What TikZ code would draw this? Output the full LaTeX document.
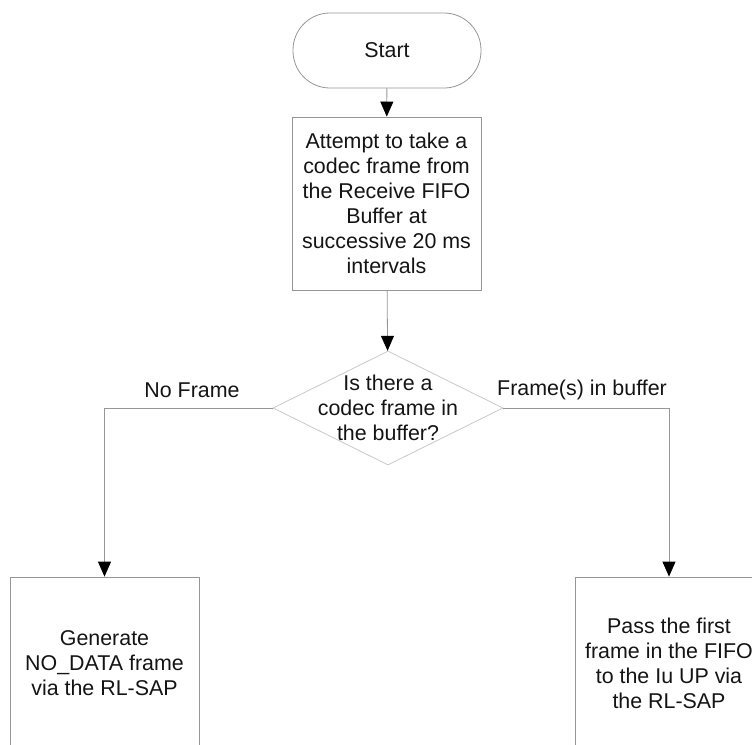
\documentclass[tikz,border=0pt]{standalone}
\usepackage{fontspec}
\setmainfont{Liberation Sans}
\usetikzlibrary{shapes.geometric,arrows.meta}
\definecolor{edge}{RGB}{150,150,150}
\definecolor{diaedge}{RGB}{200,200,200}
\definecolor{ink}{RGB}{20,20,20}
\tikzset{
  txt/.style={font=\fontsize{21.4}{25}\selectfont, text=ink, align=center},
  terminal/.style={txt, draw=edge, line width=0.8pt, rounded corners=37pt,
    minimum width=188pt, minimum height=75pt, inner sep=0pt},
  stepbox/.style={txt, draw=edge, line width=0.8pt, rectangle,
    minimum width=189pt, minimum height=173pt, inner sep=0pt},
  decision/.style={diamond, draw=diaedge, line width=0.8pt, inner sep=0pt,
    minimum width=230pt, minimum height=114pt},
  flow/.style={draw=edge, line width=0.8pt,
    -{Triangle[length=15pt,width=13pt,fill=black,color=black]}},
  lbl/.style={txt}
}
\begin{document}
\begin{tikzpicture}[x=1pt,y=-1pt]
  \useasboundingbox (0,0) rectangle (752,744);
  \clip (0,0) rectangle (752,744);

  % process nodes
  \node[terminal] (start) at (387,50.5) {Start};
  \node[stepbox] (take) at (386.5,203.5)
    {Attempt to take a\\codec frame from\\the Receive FIFO\\Buffer at\\successive 20 ms\\intervals};
  \node[decision] (check) at (388,408) {};
  \node[txt] (checktext) at (check.center) {Is there a\\codec frame in\\the buffer?};
  \node[stepbox, minimum height=172pt] (nodata) at (104.5,663)
    {Generate\\NO\_DATA frame\\via the RL-SAP};
  \node[stepbox, minimum width=188pt, minimum height=172pt] (pass) at (669,663)
    {Pass the first\\frame in the FIFO\\to the Iu UP via\\the RL-SAP};

  % connectors
  \draw[flow] (start) -- (take);
  \draw[flow] (take) -- (check);
  \draw[flow] (check.west) -| (nodata.north);
  \draw[flow] (check.east) -| (pass.north);

  % branch labels
  \node[lbl] (nolbl) at (192,390) {No Frame};
  \node[lbl] (yeslbl) at (582,390) {Frame(s) in buffer};
\end{tikzpicture}
\end{document}
